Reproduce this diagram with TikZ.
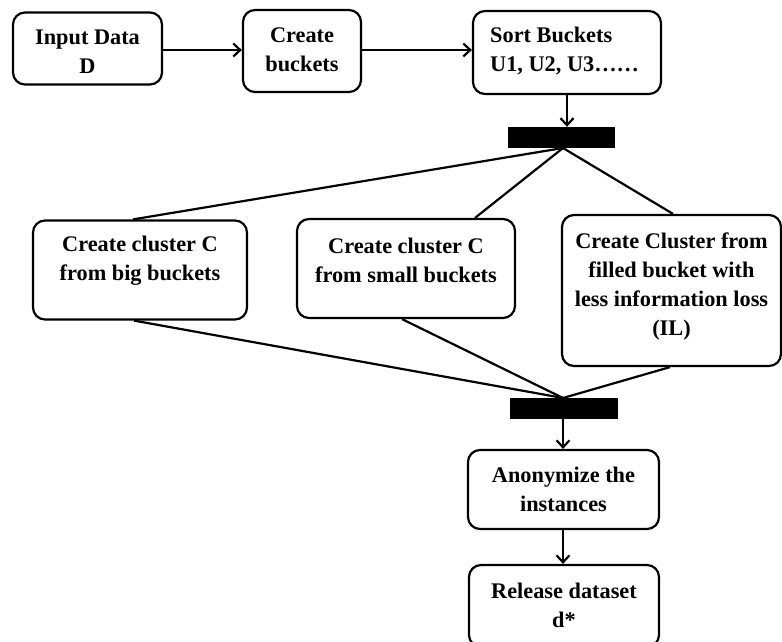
\documentclass[tikz,border=0pt]{standalone}
\usepackage{fontspec}
\setmainfont{Liberation Serif}
\usetikzlibrary{arrows.meta}
\tikzset{
  box/.style={draw, line width=2.2pt, rounded corners=12pt, inner sep=0pt},
  lbl/.style={font=\fontsize{22.3}{29}\selectfont\bfseries, align=center, inner sep=0pt},
  bar/.style={fill=black, draw=none, inner sep=0pt},
  conn/.style={line width=2.2pt},
  arr/.style={line width=2.2pt, -{Straight Barb[length=7pt,width=13pt,line width=2.2pt]}}
}
\begin{document}
\begin{tikzpicture}[x=1pt,y=-1pt]
\useasboundingbox (0,0) rectangle (782,642);
% boxes
\node[box, minimum width=149pt, minimum height=72pt] (input) at (87.5,48.5) {};
\node[lbl] (inputT) at (87.5,52) {Input Data\\D};
\node[box, minimum width=118pt, minimum height=82pt] (create) at (302,51) {};
\node[lbl] (createT) at (302,50) {Create\\buckets};
\node[box, minimum width=188pt, minimum height=83pt] (sort) at (567,52.5) {};
\node[lbl, align=left, anchor=west] (sortT) at (490,51) {Sort Buckets\\U1, U2, U3\dots\dots};
\node[bar, minimum width=107pt, minimum height=21pt] (bar1) at (561.5,137.5) {};
\node[box, minimum width=214pt, minimum height=99pt] (big) at (140,270) {};
\node[lbl] (bigT) at (140,261) {Create cluster C\\from big buckets};
\node[box, minimum width=218pt, minimum height=99pt] (small) at (406,268.5) {};
\node[lbl] (smallT) at (406,260) {Create cluster C\\from small buckets};
\node[box, minimum width=219pt, minimum height=151pt] (fill) at (671.5,290.5) {};
\node[lbl] (fillT) at (671.5,287) {Create Cluster from\\filled bucket with\\less information loss\\(IL)};
\node[bar, minimum width=108pt, minimum height=21pt] (bar2) at (564,408.5) {};
\node[box, minimum width=191pt, minimum height=79pt] (anon) at (563.5,489.5) {};
\node[lbl] (anonT) at (563.5,489) {Anonymize the\\instances};
\node[box, minimum width=190pt, minimum height=82pt] (rel) at (564,606) {};
\node[lbl] (relT) at (564,605) {Release dataset\\d*};
% coordinates on the bars
\coordinate (b1b) at (563,148);
\coordinate (b2t) at (563,398);
% connectors
\draw[arr] (input.east |- 0,50) -- (create.west |- 0,50);
\draw[arr] (create.east |- 0,50) -- (sort.west |- 0,50);
\draw[arr] (sort.south -| 567,0) -- (bar1.north -| 567,0);
\draw[conn] (b1b) -- (big.north -| 133,0);
\draw[conn] (b1b) -- (small.north -| 475,0);
\draw[conn] (b1b) -- (fill.north -| 673,0);
\draw[conn] (big.south -| 134,0) -- (b2t);
\draw[conn] (small.south -| 402,0) -- (b2t);
\draw[conn] (fill.south -| 670,0) -- (b2t);
\draw[arr] (bar2.south -| 563,0) -- (anon.north -| 563,0);
\draw[arr] (anon.south -| 563,0) -- (rel.north -| 563,0);
\end{tikzpicture}
\end{document}
